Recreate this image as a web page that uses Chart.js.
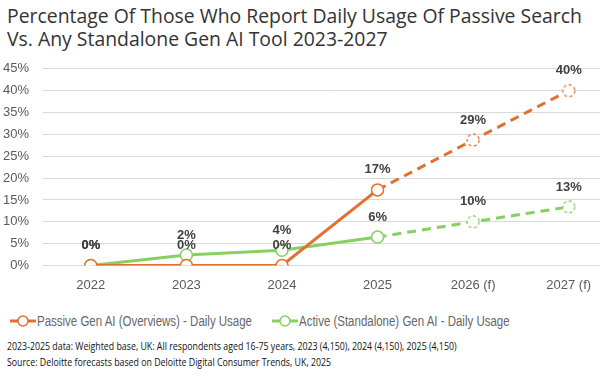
<!DOCTYPE html>
<html><head><meta charset="utf-8">
<script src="https://cdn.jsdelivr.net/npm/chart.js@4"></script>
<style>
html,body{margin:0;padding:0;width:600px;height:375px;overflow:hidden;background:#fff;position:relative;}
#title{position:absolute;left:7px;top:4px;font-family:"Open Sans",sans-serif;font-size:19.4px;line-height:23px;color:#333;white-space:nowrap;}
#wrap{position:absolute;left:0;top:47px;width:624px;height:248px;}
#legend{position:absolute;top:312px;left:10px;font-family:"Liberation Sans",Arial,sans-serif;font-size:14px;color:#666;white-space:nowrap;}
.li{position:absolute;top:0;height:18px;line-height:18px;}
.li canvas{position:absolute;left:0;top:0;}
.li span{position:absolute;left:27px;top:0;transform:scaleX(0.82);transform-origin:0 50%;}
#foot{position:absolute;left:7px;top:338px;font-family:"Open Sans",sans-serif;font-size:11px;line-height:16px;color:#111;white-space:nowrap;transform:scaleX(0.8);transform-origin:0 0;}
</style></head>
<body>
<div id="title">Percentage Of Those Who Report Daily Usage Of Passive Search<br>Vs. Any Standalone Gen AI Tool 2023-2027</div>
<div id="wrap"><canvas id="c" width="624" height="248"></canvas></div>
<div id="legend"></div>
<div id="foot">2023-2025 data: Weighted base, UK: All respondents aged 16-75 years, 2023 (4,150), 2024 (4,150), 2025 (4,150)<br>Source: Deloitte forecasts based on Deloitte Digital Consumer Trends, UK, 2025</div>
<script>
const categories = ["2022", "2023", "2024", "2025", "2026 (f)", "2027 (f)"];
const passiveValues = [0, 0, 0, 17.3, 28.7, 40.0];
const passiveLabels = ["0%", "0%", "0%", "17%", "29%", "40%"];
const activeValues = [0, 2.4, 3.5, 6.5, 10.0, 13.4];
const activeLabels = ["0%", "2%", "4%", "6%", "10%", "13%"];
const seriesNames = ["Passive Gen AI (Overviews) - Daily Usage", "Active (Standalone) Gen AI - Daily Usage"];
const yTicks = [0, 5, 10, 15, 20, 25, 30, 35, 40, 45];
const forecastStart = 3;

const ORANGE = "#E2702F", GREEN = "#86CF62";

function dashedCircle(color) {
  const c = document.createElement("canvas");
  c.width = 16; c.height = 16;
  const g = c.getContext("2d");
  g.beginPath(); g.arc(8, 8, 6, 0, Math.PI * 2);
  g.fillStyle = "#fff"; g.fill();
  g.setLineDash([3, 2.5]); g.lineWidth = 1.3; g.strokeStyle = color; g.stroke();
  return c;
}
const dashO = dashedCircle(ORANGE), dashG = dashedCircle(GREEN);

const labelPlugin = {
  id: "vlabels",
  afterDatasetsDraw(chart) {
    const ctx = chart.ctx;
    ctx.save();
    ctx.font = "bold 13px 'Liberation Sans', Arial, sans-serif";
    ctx.fillStyle = "#404040";
    ctx.textAlign = "center"; ctx.textBaseline = "middle";
    chart.data.datasets.forEach((ds, i) => {
      const meta = chart.getDatasetMeta(i);
      meta.data.forEach((pt, j) => {
        ctx.fillText(ds.valueLabels[j], pt.x, pt.y - 20);
      });
    });
    ctx.restore();
  }
};

function mkDataset(name, values, labels, color, dashImg) {
  return {
    label: name,
    data: values,
    valueLabels: labels,
    borderColor: color,
    backgroundColor: "#fff",
    borderWidth: 3,
    pointRadius: 6,
    pointBorderWidth: 1.5,
    pointBackgroundColor: "#fff",
    pointBorderColor: color,
    pointStyle: ctx => ctx.dataIndex > forecastStart ? dashImg : "circle",
    tension: 0,
    segment: { borderDash: ctx => ctx.p0DataIndex >= forecastStart ? [9, 6] : undefined }
  };
}

new Chart(document.getElementById("c"), {
  type: "line",
  data: {
    labels: categories,
    datasets: [
      mkDataset(seriesNames[0], passiveValues, passiveLabels, ORANGE, dashO),
      mkDataset(seriesNames[1], activeValues, activeLabels, GREEN, dashG)
    ]
  },
  options: {
    responsive: false,
    animation: false,
    layout: { padding: { top: 14, left: 0, right: 0 } },
    plugins: { legend: { display: false }, tooltip: { enabled: false } },
    scales: {
      x: {
        offset: true,
        grid: { display: false, drawTicks: false },
        border: { display: false },
        ticks: { padding: 12, color: "#595959", font: { size: 13, family: "'Liberation Sans', Arial, sans-serif" }, maxRotation: 0 },
        afterFit: s => { s.height = 29.5; }
      },
      y: {
        min: 0, max: 45,
        afterBuildTicks: s => { s.ticks = yTicks.map(v => ({ value: v })); },
        grid: { color: "#D9D9D9", lineWidth: 1, drawTicks: false },
        border: { display: false },
        ticks: { padding: 14, color: "#595959", font: { size: 13, family: "'Liberation Sans', Arial, sans-serif" }, callback: v => v + "%" },
        afterFit: s => { s.width = 43; }
      }
    }
  },
  plugins: [labelPlugin]
});

// legend
const legend = document.getElementById("legend");
[[seriesNames[0], ORANGE, 0], [seriesNames[1], GREEN, 262]].forEach(([name, col, left]) => {
  const d = document.createElement("div"); d.className = "li"; d.style.left = left + "px";
  const c = document.createElement("canvas"); c.width = 27; c.height = 18;
  const g = c.getContext("2d");
  g.strokeStyle = col; g.lineWidth = 3; g.beginPath(); g.moveTo(0, 9); g.lineTo(26, 9); g.stroke();
  g.beginPath(); g.arc(13, 9, 5, 0, Math.PI * 2); g.fillStyle = "#fff"; g.fill(); g.lineWidth = 1.5; g.stroke();
  const s = document.createElement("span"); s.textContent = name;
  d.appendChild(c); d.appendChild(s); legend.appendChild(d);
});
</script>
</body></html>
